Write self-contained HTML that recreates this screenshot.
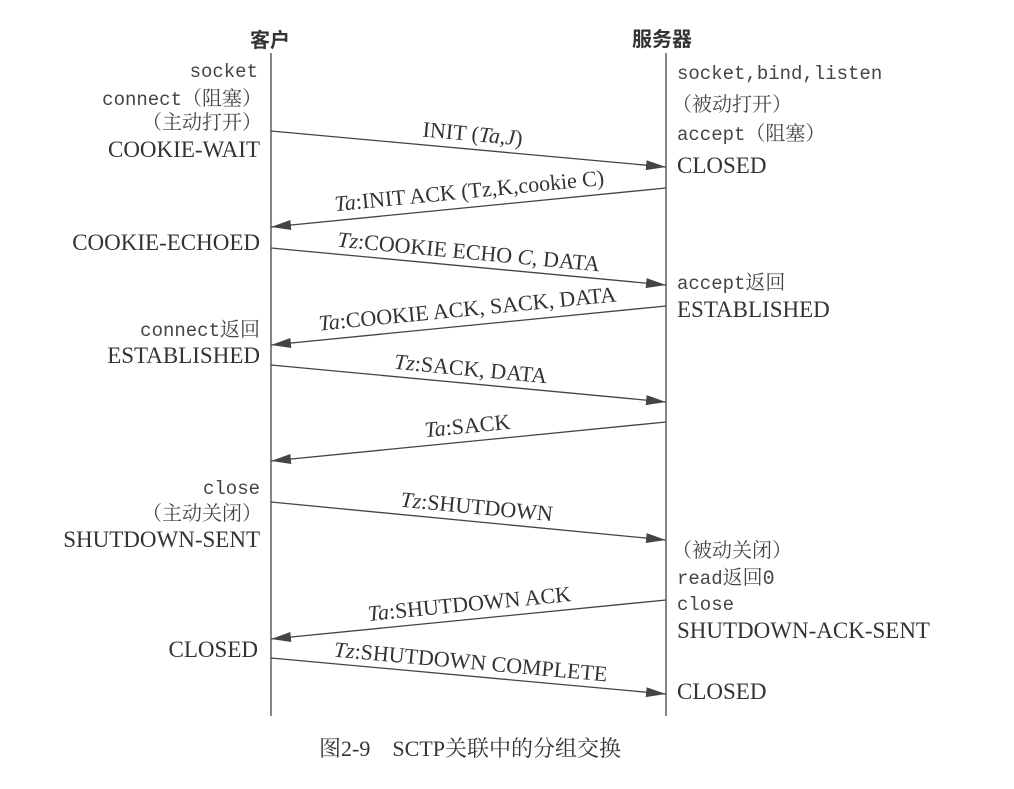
<!DOCTYPE html>
<html><head><meta charset="utf-8"><style>
body{margin:0;background:#fff;}
svg{display:block}
.s{font-family:"Liberation Serif","Noto Serif CJK SC",serif;font-size:23px;fill:#333}
.m{font-family:"Liberation Mono","Noto Sans CJK SC",monospace;font-size:19px;fill:#444}
.c{font-family:"Liberation Mono","Noto Serif CJK SC",serif;font-size:20px;fill:#444}
.h{font-family:"Liberation Sans","Noto Sans CJK SC",sans-serif;font-size:20px;font-weight:bold;fill:#333}
.g{font-family:"Liberation Serif","Noto Serif CJK SC",serif;font-size:22px;fill:#333}
</style></head><body>
<svg width="1014" height="789" viewBox="0 0 1014 789" xmlns="http://www.w3.org/2000/svg">
<defs><marker id="a" markerWidth="20" markerHeight="10" refX="20" refY="5" orient="auto" markerUnits="userSpaceOnUse"><path d="M0,0 L20,5 L0,10 Z" fill="#444"/></marker></defs>
<text class="h" x="270" y="47" text-anchor="middle">客户</text>
<text class="h" x="662" y="46" text-anchor="middle">服务器</text>
<g stroke="#444" stroke-width="1.3">
<line x1="271" y1="53" x2="271" y2="716"/>
<line x1="666" y1="53" x2="666" y2="716"/>
<line x1="271" y1="131" x2="666" y2="167" marker-end="url(#a)"/>
<line x1="666" y1="188" x2="271" y2="227" marker-end="url(#a)"/>
<line x1="271" y1="248" x2="666" y2="285" marker-end="url(#a)"/>
<line x1="666" y1="306" x2="271" y2="345" marker-end="url(#a)"/>
<line x1="271" y1="365" x2="666" y2="402" marker-end="url(#a)"/>
<line x1="666" y1="422" x2="271" y2="461" marker-end="url(#a)"/>
<line x1="271" y1="502" x2="666" y2="540" marker-end="url(#a)"/>
<line x1="666" y1="600" x2="271" y2="639" marker-end="url(#a)"/>
<line x1="271" y1="658" x2="666" y2="694" marker-end="url(#a)"/>
</g>
<g text-anchor="end">
<text class="m" x="258" y="77">socket</text>
<text class="c" x="262" y="105"><tspan class="m">connect</tspan>（阻塞）</text>
<text class="c" x="262" y="129">（主动打开）</text>
<text class="s" x="260" y="157">COOKIE-WAIT</text>
<text class="s" x="260" y="250">COOKIE-ECHOED</text>
<text class="c" x="260" y="336"><tspan class="m">connect</tspan>返回</text>
<text class="s" x="260" y="363">ESTABLISHED</text>
<text class="m" x="260" y="494">close</text>
<text class="c" x="262" y="520">（主动关闭）</text>
<text class="s" x="260" y="547">SHUTDOWN-SENT</text>
<text class="s" x="258" y="657">CLOSED</text>
</g>
<text class="m" x="677" y="79">socket,bind,listen</text>
<text class="c" x="672" y="111">（被动打开）</text>
<text class="c" x="677" y="140"><tspan class="m">accept</tspan>（阻塞）</text>
<text class="s" x="677" y="173">CLOSED</text>
<text class="c" x="677" y="289"><tspan class="m">accept</tspan>返回</text>
<text class="s" x="677" y="317">ESTABLISHED</text>
<text class="c" x="672" y="557">（被动关闭）</text>
<text class="c" x="677" y="584"><tspan class="m">read</tspan>返回0</text>
<text class="m" x="677" y="610">close</text>
<text class="s" x="677" y="638">SHUTDOWN-ACK-SENT</text>
<text class="s" x="677" y="699">CLOSED</text>
<g class="g" text-anchor="middle">
<text transform="translate(472,141) rotate(5.2)">INIT (<tspan font-style="italic">Ta,J</tspan>)</text>
<text transform="translate(470,198) rotate(-5.6)"><tspan font-style="italic">Ta</tspan>:INIT ACK (Tz,K,cookie C)</text>
<text transform="translate(468,259) rotate(5.4)"><tspan font-style="italic">Tz</tspan>:COOKIE ECHO <tspan font-style="italic">C</tspan>, DATA</text>
<text transform="translate(468,316) rotate(-5.6)"><tspan font-style="italic">Ta</tspan>:COOKIE ACK, SACK, DATA</text>
<text transform="translate(470,376) rotate(5.4)"><tspan font-style="italic">Tz</tspan>:SACK, DATA</text>
<text transform="translate(468,433) rotate(-5.6)"><tspan font-style="italic">Ta</tspan>:SACK</text>
<text transform="translate(476,514) rotate(5.5)"><tspan font-style="italic">Tz</tspan>:SHUTDOWN</text>
<text transform="translate(470,611) rotate(-5.6)"><tspan font-style="italic">Ta</tspan>:SHUTDOWN ACK</text>
<text transform="translate(470,669) rotate(5.2)"><tspan font-style="italic">Tz</tspan>:SHUTDOWN COMPLETE</text>
</g>
<text class="g" x="470" y="756" text-anchor="middle" font-size="21">图2-9　SCTP关联中的分组交换</text>
</svg>
</body></html>
